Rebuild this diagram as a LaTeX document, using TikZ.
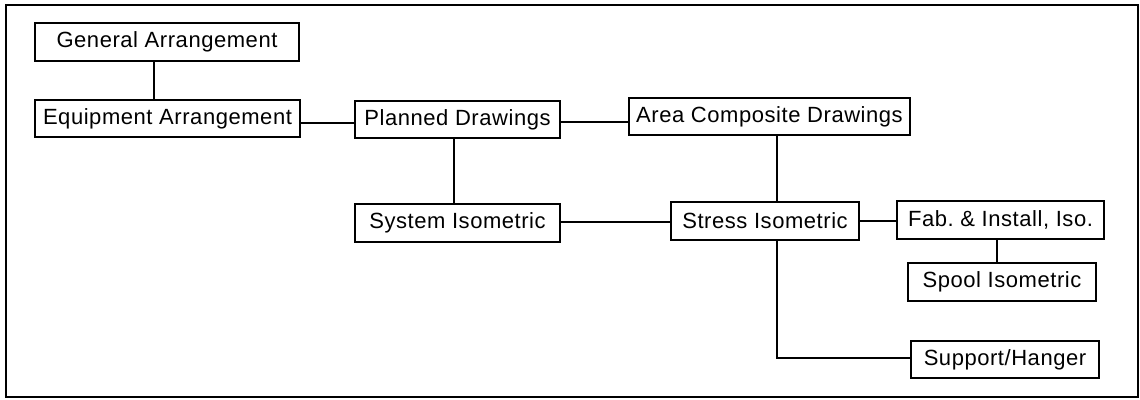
\documentclass[tikz,border=0pt]{standalone}
\usepackage{fontspec}
\setmainfont[LetterSpace=2.5]{Liberation Sans}
\begin{document}
\begin{tikzpicture}[x=1pt,y=-1pt,
  box/.style={draw,line width=1.5pt,inner sep=0pt,font=\fontsize{22}{24}\selectfont},
  conn/.style={line width=1.5pt}]
\useasboundingbox (0,0) rectangle (1140,399);
\draw[line width=2pt] (6,5) rectangle (1138,397);
\node[box,minimum width=264,minimum height=38] (GA) at (167,42) {General Arrangement};
\node[box,minimum width=265,minimum height=37] (EA) at (167.5,118.5) {Equipment Arrangement};
\node[box,minimum width=205,minimum height=37] (PD) at (457.5,119.5) {Planned Drawings};
\node[box,minimum width=281,minimum height=37] (ACD) at (769.5,116.5) {Area Composite Drawings};
\node[box,minimum width=205,minimum height=38] (SyI) at (457.5,223) {System Isometric};
\node[box,minimum width=188,minimum height=38] (StI) at (765,221) {Stress Isometric};
\node[box,minimum width=207,minimum height=38] (Fab) at (1000.5,220) {Fab.\ \& Install, Iso.};
\node[box,minimum width=188,minimum height=38] (Sp) at (1002,282) {Spool Isometric};
\node[box,minimum width=188,minimum height=37] (SH) at (1005,359.5) {Support/Hanger};
\coordinate (bend) at (777,358);
\draw[conn] (GA.south -| 154,0) -- (EA.north -| 154,0);
\draw[conn] (EA.east |- 0,123) -- (PD.west |- 0,123);
\draw[conn] (PD.east |- 0,122) -- (ACD.west |- 0,122);
\draw[conn] (PD.south -| 454,0) -- (SyI.north -| 454,0);
\draw[conn] (ACD.south -| 777,0) -- (StI.north -| 777,0);
\draw[conn] (SyI.east |- 0,222) -- (StI.west |- 0,222);
\draw[conn] (StI.east |- 0,221) -- (Fab.west |- 0,221);
\draw[conn] (Fab.south -| 997,0) -- (Sp.north -| 997,0);
\draw[conn] (StI.south -| bend) -- (bend) -- (SH.west |- bend);
\end{tikzpicture}
\end{document}
